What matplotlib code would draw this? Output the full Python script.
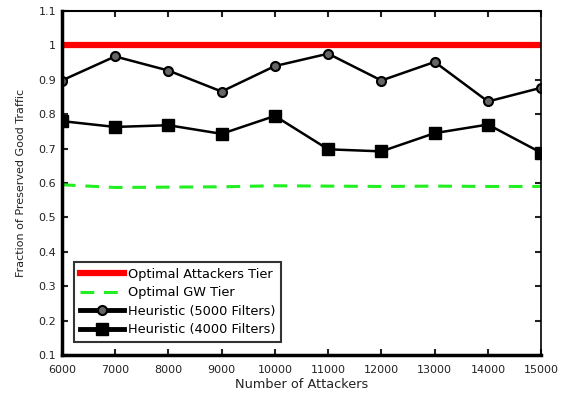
import matplotlib.pyplot as plt
import numpy as np

plt.rcParams['font.family'] = ['DejaVu Sans']

attackers = [6000, 7000, 8000, 9000, 10000, 11000, 12000, 13000, 14000, 15000]
optimal_attackers = [1.0] * 10
optimal_gw = [0.595, 0.587, 0.588, 0.589, 0.592, 0.591, 0.590, 0.591, 0.590, 0.590]
heur_5000 = [0.898, 0.968, 0.927, 0.866, 0.940, 0.976, 0.898, 0.952, 0.837, 0.877]
heur_4000 = [0.780, 0.763, 0.768, 0.743, 0.795, 0.698, 0.692, 0.745, 0.770, 0.688]

fig = plt.figure(figsize=(5.62, 3.94), dpi=100)
ax = fig.add_axes([0.110, 0.099, 0.853, 0.873])

ax.plot(attackers, optimal_attackers, color='#ff0000', lw=4.5, label='Optimal Attackers Tier')
ax.plot(attackers, optimal_gw, color='#22ee22', lw=2.2, ls=(0, (4.5, 3.2)), label='Optimal GW Tier')
ax.plot(attackers, heur_5000, color='black', lw=1.8, marker='o', ms=6.5,
        mfc='#666666', mec='black', mew=1.5, label='Heuristic (5000 Filters)')
ax.plot(attackers, heur_4000, color='black', lw=1.8, marker='s', ms=9,
        mfc='black', mec='black', label='Heuristic (4000 Filters)')

ax.set_xlim(6000, 15000)
ax.set_ylim(0.1, 1.1)
ax.set_xticks(attackers)
ax.set_yticks(np.arange(0.1, 1.11, 0.1))
ax.set_yticklabels(['0.1', '0.2', '0.3', '0.4', '0.5', '0.6', '0.7', '0.8', '0.9', '1', '1.1'])
ax.tick_params(direction='in', top=True, right=True, length=4, width=1.5,
               labelsize=8, colors='#222222')
ax.tick_params(axis='x', pad=7)
ax.tick_params(axis='y', pad=4)
for side, w in [('left', 2.5), ('bottom', 2.5), ('top', 1.5), ('right', 1.2)]:
    ax.spines[side].set_linewidth(w)

ax.set_xlabel('Number of Attackers', fontsize=9.3, color='#222222')
ax.xaxis.set_label_coords(0.5, -0.068)
ax.set_ylabel('Fraction of Preserved Good Traffic', fontsize=8, color='#222222')
ax.yaxis.set_label_coords(-0.075, 0.5)

leg = ax.legend(loc='lower left', bbox_to_anchor=(0.02, 0.03), fontsize=9.3,
                frameon=True, fancybox=False, edgecolor='black',
                handlelength=3.4, borderpad=0.45, labelspacing=0.42, handletextpad=0.3,
                borderaxespad=0.2)
leg.get_frame().set_linewidth(1.5)
for line in leg.get_lines()[2:]:
    line.set_linewidth(3.5)

fig.savefig('out.png', dpi=100)
